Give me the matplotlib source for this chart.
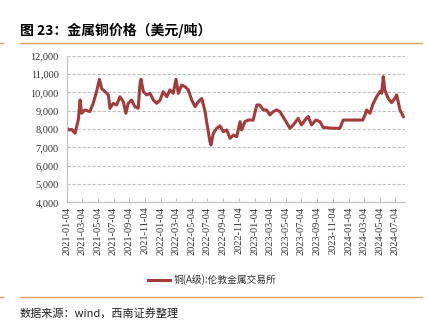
import numpy as np
import pandas as pd
import matplotlib
matplotlib.use("Agg")
import matplotlib.pyplot as plt
from matplotlib.lines import Line2D

plt.rcParams['font.family'] = ['Noto Sans CJK SC', 'DejaVu Sans']

# 读图估计的数据点（LME 铜，美元/吨）
dates = [
    "2021-01-04", "2021-01-12", "2021-01-22", "2021-02-04", "2021-02-17", "2021-02-24",
    "2021-03-02", "2021-03-15", "2021-04-03", "2021-04-16", "2021-04-29", "2021-05-10",
    "2021-05-19", "2021-06-01", "2021-06-14", "2021-06-20", "2021-07-03", "2021-07-16",
    "2021-07-29", "2021-08-11", "2021-08-21", "2021-08-30", "2021-09-12", "2021-09-25",
    "2021-10-08", "2021-10-15", "2021-10-19", "2021-10-28", "2021-11-10", "2021-11-23",
    "2021-12-06", "2021-12-19", "2022-01-01", "2022-01-13", "2022-01-27", "2022-02-08",
    "2022-02-21", "2022-03-04", "2022-03-13", "2022-03-26", "2022-04-08", "2022-04-21",
    "2022-05-04", "2022-05-17", "2022-05-30", "2022-06-12", "2022-06-25", "2022-07-01",
    "2022-07-14", "2022-07-18", "2022-07-27", "2022-08-09", "2022-08-22", "2022-09-04",
    "2022-09-17", "2022-09-30", "2022-10-13", "2022-10-26", "2022-11-08", "2022-11-14",
    "2022-11-27", "2022-12-10", "2022-12-29", "2023-01-12", "2023-01-24", "2023-02-06",
    "2023-02-19", "2023-03-04", "2023-03-17", "2023-03-30", "2023-04-12", "2023-05-02",
    "2023-05-21", "2023-06-03", "2023-06-22", "2023-07-05", "2023-07-18", "2023-07-31",
    "2023-08-13", "2023-08-30", "2023-09-15", "2023-09-27", "2023-11-05", "2023-12-01",
    "2023-12-14", "2024-02-28", "2024-03-08", "2024-03-14", "2024-03-27", "2024-04-09",
    "2024-04-22", "2024-05-05", "2024-05-12", "2024-05-18", "2024-05-24", "2024-06-06",
    "2024-06-19", "2024-07-02", "2024-07-09", "2024-07-22", "2024-08-04",
]
prices = [
    8040, 7950, 7980, 7770, 8490, 9580,
    8860, 9040, 8950, 9400, 10040, 10710,
    10200, 10040, 9860, 9130, 9400, 9310,
    9760, 9490, 8860, 9400, 9580, 9220,
    9130, 10490, 10710, 10040, 9860, 9950,
    9580, 9400, 9580, 10040, 9760, 10130,
    9950, 10710, 9950, 10400, 10310, 10130,
    9580, 9220, 9490, 9670, 8950, 8400,
    7310, 7130, 7760, 8040, 8170, 7850,
    7950, 7490, 7670, 7580, 8400, 7950,
    8400, 8490, 8490, 9310, 9310, 9040,
    9040, 8770, 8950, 9040, 8950, 8490,
    8040, 8220, 8580, 8220, 8490, 8680,
    8220, 8490, 8400, 8090, 8040, 8040,
    8490, 8490, 8770, 9040, 8860, 9400,
    9760, 10040, 9950, 10860, 10130, 9670,
    9440, 9670, 9860, 9040, 8680,
]
tick_labels = [
    "2021-01-04", "2021-03-04", "2021-05-04", "2021-07-04", "2021-09-04", "2021-11-04",
    "2022-01-04", "2022-03-04", "2022-05-04", "2022-07-04", "2022-09-04", "2022-11-04",
    "2023-01-04", "2023-03-04", "2023-05-04", "2023-07-04", "2023-09-04", "2023-11-04",
    "2024-01-04", "2024-03-04", "2024-05-04", "2024-07-04",
]
series_name = "铜(A级):伦敦金属交易所"

x = pd.to_datetime(dates)
tick_pos = pd.to_datetime(tick_labels)

fig = plt.figure(figsize=(4.28, 3.26), dpi=100)
ax = fig.add_axes([0.1565, 0.3794, 0.7895, 0.4497])

line_color = "#A33B3B"
ax.plot(x, prices, color=line_color, linewidth=2.2, solid_joinstyle="round")

ax.set_ylim(4000, 12000)
ax.set_yticks(range(4000, 12001, 1000))
ax.set_yticklabels([f"{v:,}" for v in range(4000, 12001, 1000)])
ax.set_xlim(pd.Timestamp("2021-01-04"), pd.Timestamp("2024-08-10"))
ax.set_xticks(tick_pos)
ax.set_xticklabels(tick_labels, rotation=90)
for lab in ax.get_xticklabels() + ax.get_yticklabels():
    lab.set_fontfamily("Liberation Serif")
    lab.set_fontsize(7.5)
    lab.set_color("#333333")

ax.grid(axis="y", color="#BFBFBF", linestyle=(0, (3, 1.5)), linewidth=0.8)
for s in ["top", "right"]:
    ax.spines[s].set_visible(False)
ax.spines["left"].set_color("#BFBFBF")
ax.spines["bottom"].set_color("#BFBFBF")
ax.tick_params(axis="y", length=0, pad=6)
ax.tick_params(axis="x", direction="in", length=3, color="#BFBFBF", pad=3)

# 标题、分隔线、图例、来源
fig.text(20 / 428, 1 - 30 / 326, "图 23：金属铜价格（美元/吨）", fontsize=10,
         fontweight="bold", va="center", ha="left")
orange = "#D9A35A"
fig.add_artist(Line2D([20 / 428, 422 / 428], [1 - 43 / 326] * 2, color=orange, lw=1.0))
fig.add_artist(Line2D([0, 3 / 428], [1 - 43 / 326] * 2, color=orange, lw=1.0))
fig.add_artist(Line2D([20 / 428, 422 / 428], [1 - 297 / 326] * 2, color=orange, lw=1.0))
fig.add_artist(Line2D([0, 3 / 428], [1 - 297 / 326] * 2, color=orange, lw=1.0))

fig.add_artist(Line2D([148 / 428, 170 / 428], [1 - 280 / 326] * 2, color=line_color, lw=2.2))
fig.text(174 / 428, 1 - 280 / 326, series_name, fontsize=7, va="center", ha="left",
         color="#333333")

fig.text(20 / 428, 1 - 313 / 326, "数据来源：wind，西南证券整理", fontsize=8,
         va="center", ha="left", style="italic", color="#222222")

fig.savefig("out.png", dpi=100)
